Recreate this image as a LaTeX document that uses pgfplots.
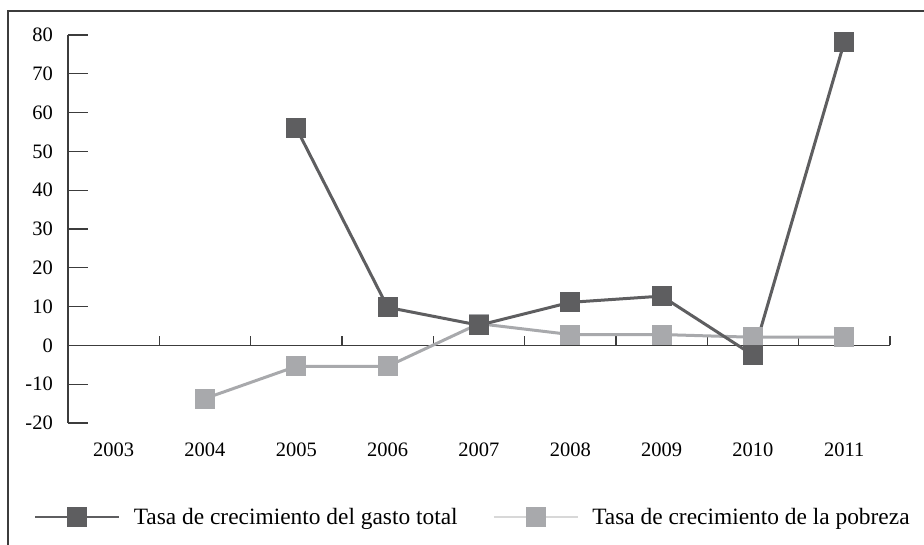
\documentclass[border=0pt]{standalone}
\usepackage{pgfplots}
\pgfplotsset{compat=1.18}
\usepackage{fontspec}
\setmainfont{Liberation Serif}
\definecolor{darkser}{HTML}{5E5E60}
\definecolor{lightser}{HTML}{A8A9AC}
\definecolor{lightleg}{HTML}{D8D8D8}
\definecolor{axcol}{HTML}{3C3C3C}
\begin{document}
\begin{tikzpicture}[x=1pt,y=1pt]
\draw[axcol, line width=1.3pt] (8,0) -- (8,534) -- (924,534);
\begin{axis}[
  at={(68pt,122pt)}, anchor=south west,
  scale only axis, width=822pt, height=388pt,
  xmin=2002.5, xmax=2011.5, ymin=-20, ymax=80,
  axis x line*=bottom, axis y line*=left,
  x axis line style={draw=none},
  y axis line style={axcol, line width=1.3pt},
  xtick={2003,...,2011}, ytick={-20,-10,...,80},
  major x tick style={draw=none},
  major y tick style={axcol, line width=1.3pt},
  ytick align=inside, major tick length=20pt,
  /pgf/number format/assume math mode=true,
  /pgf/number format/set thousands separator={},
  tick label style={font=\fontsize{20.5}{24}\selectfont, inner sep=0pt},
  xticklabel style={anchor=north, yshift=-20pt},
  yticklabel style={anchor=east, xshift=-15pt},
  clip=false,
  legend columns=2, reverse legend,
  legend style={at={(axis description cs:-0.0414,-0.2423)}, anchor=west, draw=none, fill=none, inner sep=0pt,
    font=\fontsize{23.4}{28}\selectfont, nodes={inner sep=0pt},
    /tikz/every odd column/.append style={column sep=13pt},
    /tikz/every even column/.append style={column sep=35pt}},
  legend cell align=left,
]
\draw[axcol, line width=1.3pt] (axis cs:2002.5,0) -- (axis cs:2011.5,0);
\pgfplotsinvokeforeach{2003.5,2004.5,2005.5,2006.5,2007.5,2008.5,2009.5,2010.5,2011.5}{
  \draw[axcol, line width=1.1pt] (axis cs:#1,0) -- ++(0pt,9pt);
}
\addplot[color=lightser, line width=3pt, mark=square*, mark size=8.5pt,
  mark options={solid, fill=lightser, draw=none},
  legend image code/.code={
    \draw[lightleg, line width=2.6pt] (0pt,0pt) -- (84pt,0pt);
    \draw[mark=square*, mark size=8.5pt, mark options={fill=lightser, draw=none}] plot coordinates {(42pt,0pt)};
  }]
  coordinates {(2004,-13.7) (2005,-5.4) (2006,-5.4) (2007,5.6) (2008,2.8) (2009,2.8) (2010,2.1) (2011,2.1)};
\addlegendentry{Tasa de crecimiento de la pobreza}
\addplot[color=darkser, line width=3pt, mark=square*, mark size=8.5pt,
  mark options={solid, fill=darkser, draw=none},
  legend image code/.code={
    \draw[darkser, line width=2.6pt] (0pt,0pt) -- (84pt,0pt);
    \draw[mark=square*, mark size=8.5pt, mark options={fill=darkser, draw=none}] plot coordinates {(42pt,0pt)};
  }]
  coordinates {(2005,56) (2006,9.8) (2007,5.2) (2008,11.1) (2009,12.7) (2010,-2.5) (2011,78.2)};
\addlegendentry{Tasa de crecimiento del gasto total}
\end{axis}
\pgfresetboundingbox
\useasboundingbox (0,0) rectangle (924,545);
\end{tikzpicture}
\end{document}
